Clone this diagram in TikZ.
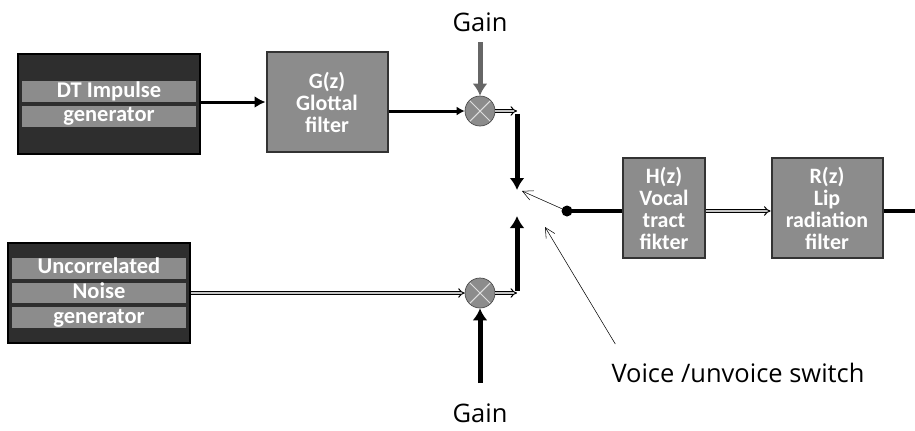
\documentclass[tikz,border=0pt]{standalone}
\usepackage{fontspec}
\setmainfont{Open Sans}
\newfontfamily\boxfont{Carlito}
\usetikzlibrary{positioning, arrows.meta, calc}

% gray band behind a line of text in the generator boxes
\newcommand{\band}[1]{{\setlength{\fboxsep}{0pt}\colorbox{black!45}{\makebox[34.6mm]{\rule[-2.8pt]{0pt}{11.7pt}#1}}}}

\tikzset{
    genbox/.style={draw=black, line width=0.4mm, fill=black!82, text=white,
        font=\boxfont\bfseries\fontsize{12.8}{14}\selectfont, align=center,
        minimum width=36.4mm, minimum height=20mm, inner sep=0pt},
    filtbox/.style={draw=black!80, line width=0.4mm, fill=black!45, text=white,
        font=\boxfont\bfseries\fontsize{12.5}{12.5}\selectfont, align=center,
        minimum height=20mm, inner sep=0pt},
    mult/.style={circle, draw=black!70, fill=black!45, minimum size=6mm, inner sep=0pt,
        path picture={\draw[gray!25, line width=0.6pt]
            (path picture bounding box.north west) -- (path picture bounding box.south east)
            (path picture bounding box.north east) -- (path picture bounding box.south west);}},
    sig/.style={line width=0.6mm, -{Latex[length=2.2mm,width=2.4mm]}},
    dblsig/.style={draw=black, double=gray!45, double distance=0.45mm, line width=0.2mm,
        -{Implies[length=1.6mm]}},
    bus/.style={line width=1mm, -{Latex[length=2.4mm,width=3mm]}},
    thin/.style={line width=0.3pt, -{Straight Barb[length=2mm,width=2mm]}},
    lbl/.style={font=\fontsize{14.5}{17}\selectfont}
}

\begin{document}
\begin{tikzpicture}[x=0.2mm, y=-0.2mm]
    \useasboundingbox (0,0) rectangle (915,430);

    % Sources and filters
    \node[genbox] (imp) at (109,104) {\band{DT Impulse}\\\band{generator}};
    \node[genbox] (noise) at (99,293) {\band{Uncorrelated}\\\band{Noise}\\\band{generator}};
    \node[filtbox, minimum width=24.2mm] (glot) at (327,102) {G(z)\\Glottal\\filter};
    \node[filtbox, minimum width=16.4mm] (vocal) at (664,208) {H(z)\\Vocal\\tract\\fikter};
    \node[filtbox, minimum width=22.2mm] (lip) at (827,208) {R(z)\\Lip\\radiation\\filter};

    % Multipliers
    \node[mult] (m1) at (480,111) {};
    \node[mult] (m2) at (480,293) {};

    % Gains
    \node[lbl] (gtop) at (480,22) {Gain};
    \node[lbl] (gbot) at (480,413) {Gain};
    \coordinate (gtopend) at (480,42);
    \coordinate (gbotend) at (480,383);

    % Switch points
    \coordinate (c1) at (517,111);
    \coordinate (c2) at (517,293);
    \coordinate (ktop) at (517,190);
    \coordinate (kbot) at (517,216);
    \coordinate (kup) at (522,191);
    \node[circle, fill=black, inner sep=0pt, minimum size=2.2mm] (sw) at (567,211) {};
    \coordinate (out) at (915,211);

    % Label
    \node[lbl] (vlab) at (738,373) {Voice /unvoice switch};
    \coordinate (vtip) at (545,227);

    % Upper path
    \draw[sig] (imp.east |- glot) -- (glot.west);
    \draw[sig, -{Latex[length=1.6mm,width=1.8mm]}] (glot.east |- m1) -- (m1.west);
    \draw[line width=1mm, black!60, -{Latex[length=2.4mm,width=3mm]}] (gtopend) -- (m1.north);
    \draw[dblsig] (m1.east) -- (c1);
    \draw[bus] ([yshift=-0.5mm]c1) -- (ktop);

    % Lower path
    \draw[dblsig] (noise.east |- m2) -- (m2.west);
    \draw[line width=1mm, -{Latex[length=2.4mm,width=3mm]}] (gbotend) -- (m2.south);
    \draw[dblsig] (m2.east) -- (c2);
    \draw[bus] ([yshift=0.5mm]c2) -- (kbot);

    % Switch and output chain
    \draw[thin] (sw.center) -- (kup);
    \draw[line width=0.8mm] (sw.center) -- (vocal.west |- sw);
    \draw[dblsig] (vocal.east |- sw) -- (lip.west |- sw);
    \draw[line width=0.8mm] (lip.east |- sw) -- (out);
    \draw[thin] ([shift={(2mm,2.6mm)}]vlab.north west) -- (vtip);
\end{tikzpicture}
\end{document}
